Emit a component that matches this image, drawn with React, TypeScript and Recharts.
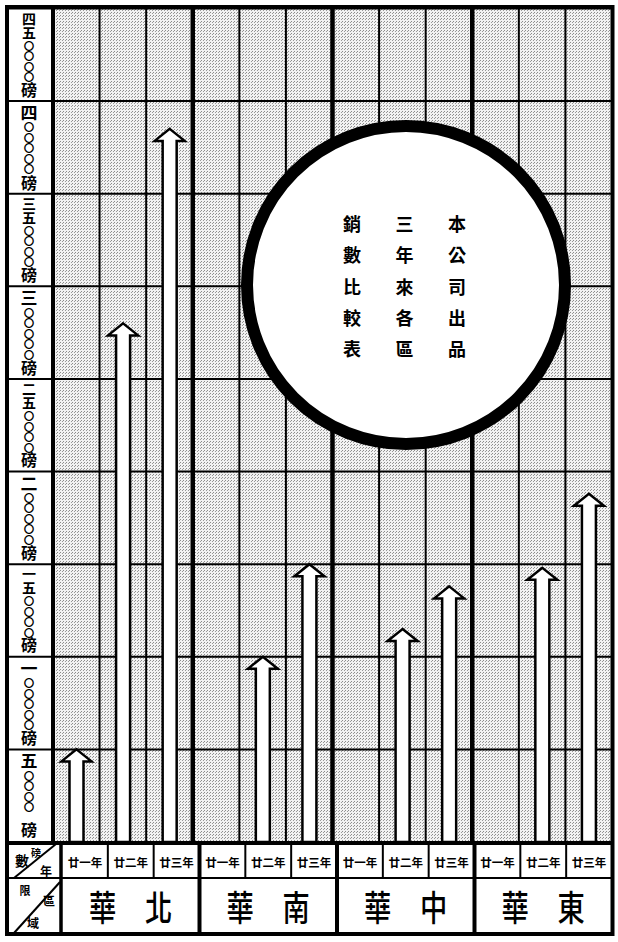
import React from "react";
import { BarChart, Bar, XAxis, YAxis, CartesianGrid } from "recharts";

const regions = ["華北", "華南", "華中", "華東"];
const years = ["廿一年", "廿二年", "廿三年"];

// 磅數 for 廿一年, 廿二年, 廿三年 (null: no arrow in the original)
const northSales = [50000, 280000, 385000];
const southSales = [null, 100000, 150000];
const centralSales = [null, 115000, 138000];
const eastSales = [null, 148000, 188000];

const yTicks = [0, 50000, 100000, 150000, 200000, 250000, 300000, 350000, 400000, 450000];
const yTickLabels = [
  "",
  "五〇〇〇〇磅",
  "一〇〇〇〇〇磅",
  "一五〇〇〇〇磅",
  "二〇〇〇〇〇磅",
  "二五〇〇〇〇磅",
  "三〇〇〇〇〇磅",
  "三五〇〇〇〇磅",
  "四〇〇〇〇〇磅",
  "四五〇〇〇〇磅",
];

const titleColumns = ["本公司出品", "三年來各區", "銷數比較表"];

const series = [northSales, southSales, centralSales, eastSales];
const rows = regions.flatMap((region, gi) =>
  years.map((year, yi) => ({
    key: region + year,
    region,
    year,
    value: series[gi][yi],
  }))
);

const W = 618;
const H = 942;
const PLOT_LEFT = 53;
const PLOT_RIGHT = 612;
const PLOT_TOP = 8.5;
const PLOT_BOTTOM = 841;
const COL_W = (PLOT_RIGHT - PLOT_LEFT) / rows.length;
const HEADER_LEFT = 62;
const HEADER_COL = (PLOT_RIGHT - HEADER_LEFT) / rows.length;
const CJK = "'Noto Sans CJK TC', 'Noto Sans CJK SC', sans-serif";

// vertical label in the cell below each tick line
function YLabel(props: any) {
  const { y, payload } = props;
  const label = yTickLabels[yTicks.indexOf(payload.value)] || "";
  const chars = Array.from(label);
  const heads = chars.filter((c) => c !== "〇" && c !== "磅").join("");
  const zeros = chars.filter((c) => c === "〇").join("");
  return (
    <g>
      <line x1={8} x2={PLOT_LEFT} y1={y} y2={y} stroke="#000" strokeWidth={2} />
      {label && (
        <text
          x={29}
          y={y + 3}
          fontFamily={CJK}
          fontWeight={700}
          fill="#000"
          style={{ writingMode: "vertical-rl" }}
        >
          <tspan fontSize={heads.length === 1 ? 17 : 14}>{heads}</tspan>
          <tspan fontSize={10.5} dy={1}>{zeros}</tspan>
          <tspan fontSize={16} y={y + 73}>磅</tspan>
        </text>
      )}
    </g>
  );
}

function YearTick(props: any) {
  const { payload } = props;
  const i = rows.findIndex((r) => r.key === payload.value);
  if (i < 0) return null;
  return (
    <text
      x={HEADER_LEFT + (i + 0.5) * HEADER_COL}
      y={862}
      textAnchor="middle"
      dominantBaseline="central"
      fontFamily={CJK}
      fontWeight={700}
      fontSize={11.5}
      fill="#000"
    >
      {rows[i].year}
    </text>
  );
}

function Arrow(props: any) {
  const { x, y, width, height, payload } = props;
  if (!payload || payload.value == null || !height || height <= 0) return null;
  const cx = x + width / 2;
  const top = y;
  const bottom = y + height;
  const hw = 15;
  const sw = 7;
  const hh = 12;
  const d = `M${cx},${top} L${cx + hw},${top + hh} L${cx + sw},${top + hh} L${cx + sw},${bottom} L${cx - sw},${bottom} L${cx - sw},${top + hh} L${cx - hw},${top + hh} Z`;
  return <path d={d} fill="#fff" stroke="#000" strokeWidth={2.5} />;
}

function Overlay() {
  const groupLines = [1, 2, 3];
  return (
    <svg
      width={W}
      height={H}
      style={{ position: "absolute", left: 0, top: 0, pointerEvents: "none" }}
    >
      {groupLines.map((g) => (
        <line
          key={"g" + g}
          x1={PLOT_LEFT + g * 3 * COL_W}
          x2={PLOT_LEFT + g * 3 * COL_W}
          y1={PLOT_TOP}
          y2={PLOT_BOTTOM}
          stroke="#000"
          strokeWidth={4.5}
        />
      ))}

      {/* header table */}
      <line x1={7} x2={612} y1={843} y2={843} stroke="#000" strokeWidth={4} />
      <line x1={7} x2={612} y1={878} y2={878} stroke="#000" strokeWidth={2} />
      <line x1={61} x2={61} y1={843} y2={934} stroke="#000" strokeWidth={3.5} />
      {rows.map((r, i) =>
        i > 0 && i % 3 !== 0 ? (
          <line
            key={"yc" + i}
            x1={HEADER_LEFT + i * HEADER_COL}
            x2={HEADER_LEFT + i * HEADER_COL}
            y1={843}
            y2={878}
            stroke="#000"
            strokeWidth={2}
          />
        ) : null
      )}
      {groupLines.map((g) => (
        <line
          key={"rc" + g}
          x1={HEADER_LEFT + g * 3 * HEADER_COL}
          x2={HEADER_LEFT + g * 3 * HEADER_COL}
          y1={843}
          y2={934}
          stroke="#000"
          strokeWidth={4}
        />
      ))}
      {regions.map((r, gi) => {
        const cx = HEADER_LEFT + (gi * 3 + 1.5) * HEADER_COL;
        return Array.from(r).map((c, ci) => (
          <text
            key={r + ci}
            transform={`translate(${cx + (ci === 0 ? -28 : 28)},${906}) scale(0.88,1.12)`}
            textAnchor="middle"
            dominantBaseline="central"
            fontFamily={CJK}
            fontWeight={500}
            fontSize={31}
            fill="#000"
          >
            {c}
          </text>
        ));
      })}

      {/* corner cell */}
      <line x1={14} y1={878} x2={56} y2={844} stroke="#000" strokeWidth={2} />
      <line x1={14} y1={933} x2={60} y2={882} stroke="#000" strokeWidth={2} />
      <text x={22} y={860} textAnchor="middle" dominantBaseline="central" fontFamily={CJK} fontWeight={700} fontSize={14} fill="#000">數</text>
      <text x={36} y={852} textAnchor="middle" dominantBaseline="central" fontFamily={CJK} fontWeight={700} fontSize={10} fill="#000">磅</text>
      <text x={46} y={870} textAnchor="middle" dominantBaseline="central" fontFamily={CJK} fontWeight={700} fontSize={12} fill="#000">年</text>
      <text x={25} y={890} textAnchor="middle" dominantBaseline="central" fontFamily={CJK} fontWeight={700} fontSize={11} fill="#000">限</text>
      <text x={49} y={900} textAnchor="middle" dominantBaseline="central" fontFamily={CJK} fontWeight={700} fontSize={12} fill="#000">區</text>
      <text x={33} y={922} textAnchor="middle" dominantBaseline="central" fontFamily={CJK} fontWeight={700} fontSize={12} fill="#000">域</text>

      {/* title circle */}
      <circle cx={406} cy={285} r={159} fill="#fff" stroke="#000" strokeWidth={12} />
      {titleColumns.map((col, ci) =>
        Array.from(col).map((c, ri) => (
          <text
            key={"t" + ci + ri}
            x={457 - ci * 52.5}
            y={223 + ri * 31.3}
            textAnchor="middle"
            dominantBaseline="central"
            fontFamily={CJK}
            fontWeight={700}
            fontSize={18}
            fill="#000"
          >
            {c}
          </text>
        ))
      )}

      {/* outer frame */}
      <rect x={7} y={7} width={605.5} height={927} fill="none" stroke="#000" strokeWidth={4} />
    </svg>
  );
}

export default function App() {
  return (
    <div style={{ position: "relative", width: W, height: H, background: "#fff" }}>
      <style>{"body{margin:0;background:#fff}"}</style>
      <svg width={0} height={0} style={{ position: "absolute" }}>
        <defs>
          <pattern id="stipple" width={3} height={3} patternUnits="userSpaceOnUse">
            <rect width={3} height={3} fill="#f2f2f2" />
            <rect x={0} y={0} width={1} height={1} fill="#8c8c8c" />
            <rect x={2} y={1} width={1} height={1} fill="#9a9a9a" />
          </pattern>
        </defs>
      </svg>
      <BarChart
        width={W}
        height={H}
        data={rows}
        margin={{ top: PLOT_TOP, right: W - PLOT_RIGHT, bottom: H - 935 - 1, left: 8 }}
        barCategoryGap="0%"
      >
        <CartesianGrid
          stroke="#000"
          strokeWidth={2}
          fill="url(#stipple)"
          fillOpacity={1}
          verticalCoordinatesGenerator={(p: any) => {
            const left = p?.offset?.left ?? PLOT_LEFT;
            const width = p?.offset?.width ?? PLOT_RIGHT - PLOT_LEFT;
            return rows.map((_, i) => left + (i * width) / rows.length).concat(left + width);
          }}
        />
        <XAxis
          dataKey="key"
          interval={0}
          height={935 - PLOT_BOTTOM}
          axisLine={false}
          tickLine={false}
          tick={<YearTick />}
        />
        <YAxis
          type="number"
          domain={[0, 450000]}
          ticks={yTicks}
          interval={0}
          width={PLOT_LEFT - 8}
          axisLine={{ stroke: "#000", strokeWidth: 4 }}
          tickLine={false}
          tick={<YLabel />}
        />
        <Bar dataKey="value" isAnimationActive={false} shape={<Arrow />} />
      </BarChart>
      <Overlay />
    </div>
  );
}
